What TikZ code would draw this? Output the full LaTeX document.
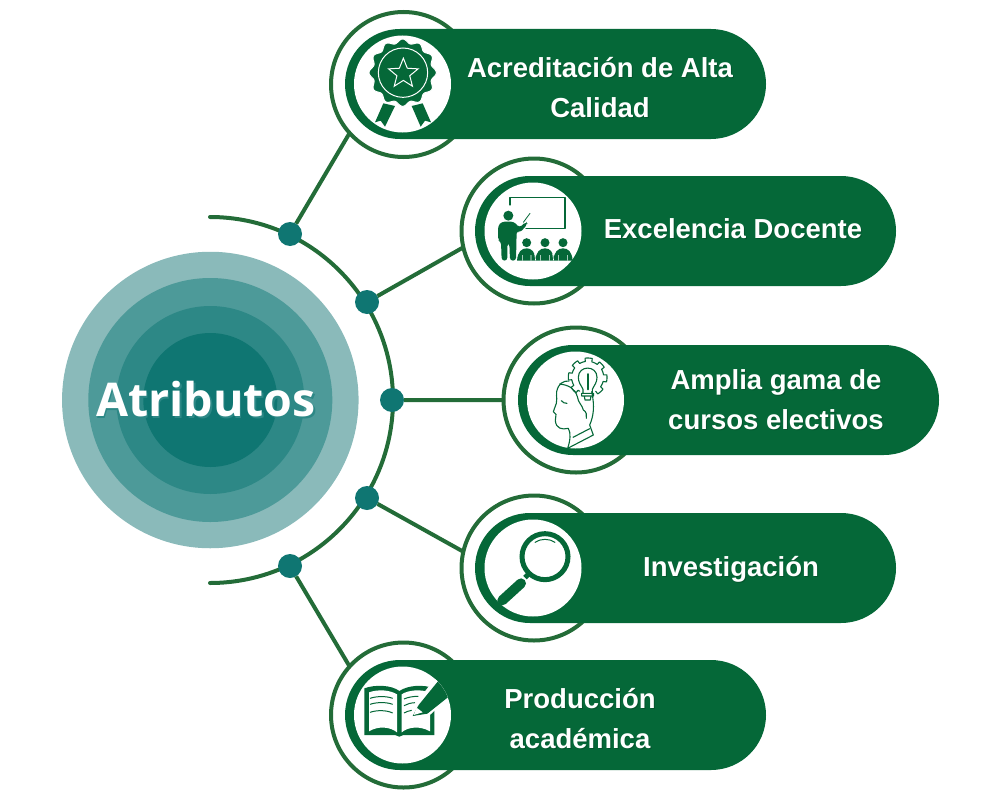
\documentclass[tikz,border=0pt]{standalone}
\usepackage{fontspec}
\usetikzlibrary{shapes.geometric}
\newfontfamily\labelfamily{Liberation Sans}
\newfontfamily\titlefamily{Open Sans}
\definecolor{pillgreen}{HTML}{056838}
\definecolor{linegreen}{HTML}{236C38}
\definecolor{tealdot}{HTML}{0F7672}
\definecolor{teala}{HTML}{8ABABA}
\definecolor{tealb}{HTML}{4D9A99}
\definecolor{tealc}{HTML}{2D8886}
\begin{document}
\begin{tikzpicture}[x=1pt,y=-1pt,inner sep=0pt,outer sep=0pt,
disc/.style={circle,fill=#1},
ring/.style={circle,draw=linegreen,line width=4pt,fill=white,minimum size=145pt},
pill/.style={rectangle,fill=pillgreen,minimum height=110pt,minimum width=421pt,rounded corners=55pt},
hole/.style={circle,fill=white,minimum size=97pt},
dot/.style={circle,fill=tealdot,minimum size=24pt},
link/.style={draw=linegreen,line width=4pt},
itemtext/.style={text=white,align=center,font=\labelfamily\bfseries\fontsize{27.5}{40}\selectfont},
itemshade/.style={text=pillgreen!70!black,text opacity=0.6,align=center,font=\labelfamily\bfseries\fontsize{27.5}{40}\selectfont},
icon/.style={shift={(#1)},x=0.33333pt,y=-0.33333pt},
thinline/.style={draw=pillgreen,line width=1.1pt,line cap=round,line join=round}]
\useasboundingbox (0,0) rectangle (1000,800);
\node[disc=teala,minimum size=296.5pt] (outer) at (210.3,400) {};
\node[disc=tealb,minimum size=244pt] (second) at (210.3,400) {};
\node[disc=tealc,minimum size=188pt] (third) at (210.3,400) {};
\node[disc=tealdot,minimum size=134pt] (core) at (210.3,400) {};
\node[anchor=base,text=tealc,font=\titlefamily\bfseries\fontsize{46.5}{46}\selectfont] (titleshade) at (207.5,418.2) {Atributos};
\node[anchor=base,text=white,font=\titlefamily\bfseries\fontsize{46.5}{46}\selectfont] (title) at (206,416.7) {Atributos};
\coordinate (arctop) at (210,217);
\draw[link,line cap=round] (arctop) arc[start angle=-90,end angle=90,radius=183];
\node[ring] (ringa) at (403.5,84.5) {};
\node[ring] (ringb) at (534,231) {};
\node[ring] (ringc) at (576,400) {};
\node[ring] (ringd) at (534,568) {};
\node[ring] (ringe) at (403.5,715) {};
\node[dot] (dota) at (290,234) {};
\node[dot] (dotb) at (367,302) {};
\node[dot] (dotc) at (392,400) {};
\node[dot] (dotd) at (367,498) {};
\node[dot] (dote) at (290,566) {};
\path[link] (dota) -- (ringa.222) (dotb) -- (ringb.193) (dotc) -- (ringc.180) (dotd) -- (ringd.167) (dote) -- (ringe.138);
\node[pill] (pilla) at (555.5,84) {};
\node[pill] (pillb) at (685.5,231) {};
\node[pill] (pillc) at (728.5,400) {};
\node[pill] (pilld) at (685.5,568) {};
\node[pill] (pille) at (555.5,715) {};
\node[hole] (holea) at (402.5,84) {};
\node[hole] (holeb) at (533,231) {};
\node[hole] (holec) at (575.5,400) {};
\node[hole] (holed) at (533,568) {};
\node[hole] (holee) at (402.5,715) {};
\node[itemshade] (shadea) at (601,88.5) {Acreditación de Alta\\Calidad};
\node[itemtext] (texta) at (600,87.5) {Acreditación de Alta\\Calidad};
\node[itemshade] (shadeb) at (734,230) {Excelencia Docente};
\node[itemtext] (textb) at (733,229) {Excelencia Docente};
\node[itemshade] (shadec) at (777,401) {Amplia gama de\\cursos electivos};
\node[itemtext] (textc) at (776,400) {Amplia gama de\\cursos electivos};
\node[itemshade] (shaded) at (732,570.5) {Investigación};
\node[itemtext] (textd) at (731,569.5) {Investigación};
\node[itemshade] (shadee) at (581,720) {Producción\\académica};
\node[itemtext] (texte) at (580,719) {Producción\\académica};
\begin{scope}[icon={320,0}]
\fill[pillgreen] (190,310) -- (225,318) -- (195,380) -- (182,362) -- (165,367) -- cycle
(275,318) -- (308,310) -- (333,367) -- (315,362) -- (302,380) -- cycle;
\fill[pillgreen,draw=white,line width=1pt] plot[domain=0:360,samples=181,smooth] ({248+(95+6*cos(12*\x))*cos(\x)},{218+(95+6*cos(12*\x))*sin(\x)}) -- cycle;
\draw[white,line width=1pt] (249,218) circle (74);
\node[star,star points=5,star point ratio=2.3,draw=white,line width=1pt,minimum size=31pt] (staricon) at (250,221) {};
\end{scope}
\begin{scope}[icon={490,190}]
\draw[thinline] (60,45) -- (60,23) -- (225,23) -- (225,115) -- (108,115);
\fill[pillgreen] (55,77) circle (15);
\fill[pillgreen,rounded corners=3pt] (24,150) -- (24,108) -- (35,95) -- (72,95) -- (88,113) -- (108,95) -- (113,102) -- (90,128) -- (80,122) -- (78,212) -- (60,212) -- (58,160) -- (52,160) -- (52,212) -- (35,212) -- (33,155) -- cycle;
\draw[thinline,line width=0.8pt] (100,97) -- (120,70);
\fill[pillgreen] (110,158) circle (13.5) (165,158) circle (13.5) (219,158) circle (13.5);
\fill[pillgreen] (81,212) .. controls (83,185) and (95,175) .. (110,175) .. controls (125,175) and (135,185) .. (138,212) -- cycle
(136,212) .. controls (138,185) and (150,175) .. (165,175) .. controls (180,175) and (190,185) .. (192,212) -- cycle
(190,212) .. controls (192,185) and (204,175) .. (219,175) .. controls (234,175) and (246,185) .. (248,212) -- cycle;
\draw[white,line width=0.6pt] (137,212) -- (134,192) (191,212) -- (188,192) (97,212) -- (97,195) (123,212) -- (123,195) (152,212) -- (152,195) (178,212) -- (178,195) (206,212) -- (206,195) (232,212) -- (232,195);
\end{scope}
\begin{scope}[icon={545,350}]
\draw[thinline] plot[domain=-60:240,samples=241] ({128+(48+10*(cos(8*\x+22.5)>0))*cos(\x)},{82-(48+10*(cos(8*\x+22.5)>0))*sin(\x)});
\draw[thinline] (114,130) -- (114,118) .. controls (108,105) and (100,98) .. (100,82) .. controls (100,45) and (156,45) .. (156,82) .. controls (156,98) and (148,105) .. (142,118) -- (142,130)
(110,130) -- (146,130) -- (146,138) -- (110,138) -- cycle (118,138) -- (120,150) -- (136,150) -- (138,138);
\draw[thinline,line width=2pt] (128,118) -- (128,72);
\draw[thinline] (72,93) .. controls (55,92) and (40,100) .. (35,125) .. controls (33,145) and (38,150) .. (34,160) -- (25,185) -- (33,193) -- (31,212) .. controls (33,235) and (50,240) .. (70,235) .. controls (78,250) and (76,270) .. (68,295) -- (145,255) -- (134,225) .. controls (145,200) and (150,170) .. (140,125);
\draw[thinline] (44,102) .. controls (70,105) and (90,115) .. (97,140) .. controls (100,160) and (112,165) .. (115,180) .. controls (125,185) and (125,195) .. (124,205);
\draw[thinline] (49,152) .. controls (53,158) and (60,160) .. (66,160) (84,262) -- (134,236);
\end{scope}
\begin{scope}[icon={450,490}]
\draw[pillgreen,line width=5pt] (285,200) circle (69);
\draw[pillgreen,line width=1pt,line cap=round] (255,157) .. controls (272,145) and (298,145) .. (315,157);
\draw[pillgreen,line width=5pt] (238,250) -- (225,263);
\draw[pillgreen,line width=10pt,line cap=round] (213,280) -- (157,331);
\end{scope}
\begin{scope}[icon={320,635}]
\clip (247.5,240) circle (146);
\fill[pillgreen] (133,160) .. controls (165,148) and (215,150) .. (238,168) .. controls (265,150) and (310,148) .. (343,160) -- (343,300) -- (250,300) -- (238,305) -- (225,300) -- (133,300) -- cycle;
\fill[white] (147,172) .. controls (175,162) and (210,165) .. (231,178) -- (231,292) .. controls (210,275) and (175,272) .. (147,289) -- cycle
(245,178) .. controls (265,165) and (300,162) .. (330,172) -- (330,289) .. controls (300,272) and (265,275) .. (245,292) -- cycle;
\draw[pillgreen,line width=1pt] (150,190) .. controls (170,183) and (200,183) .. (218,190)
(150,208) .. controls (170,201) and (200,201) .. (218,208)
(150,232) .. controls (170,225) and (200,225) .. (218,234)
(252,192) .. controls (265,186) and (280,184) .. (295,184)
(252,212) .. controls (262,206) and (272,204) .. (285,203)
(252,234) .. controls (258,230) and (266,228) .. (275,226);
\fill[white] (345,130) -- (395,180) -- (322,247) -- (268,252) -- (287,205) -- cycle;
\fill[pillgreen] (296,210) -- (353,140) -- (395,178) -- (322,236) -- (278,243) -- cycle;
\fill[white] (290,218) -- (281,240) -- (308,232) -- cycle;
\end{scope}
\end{tikzpicture}
\end{document}
